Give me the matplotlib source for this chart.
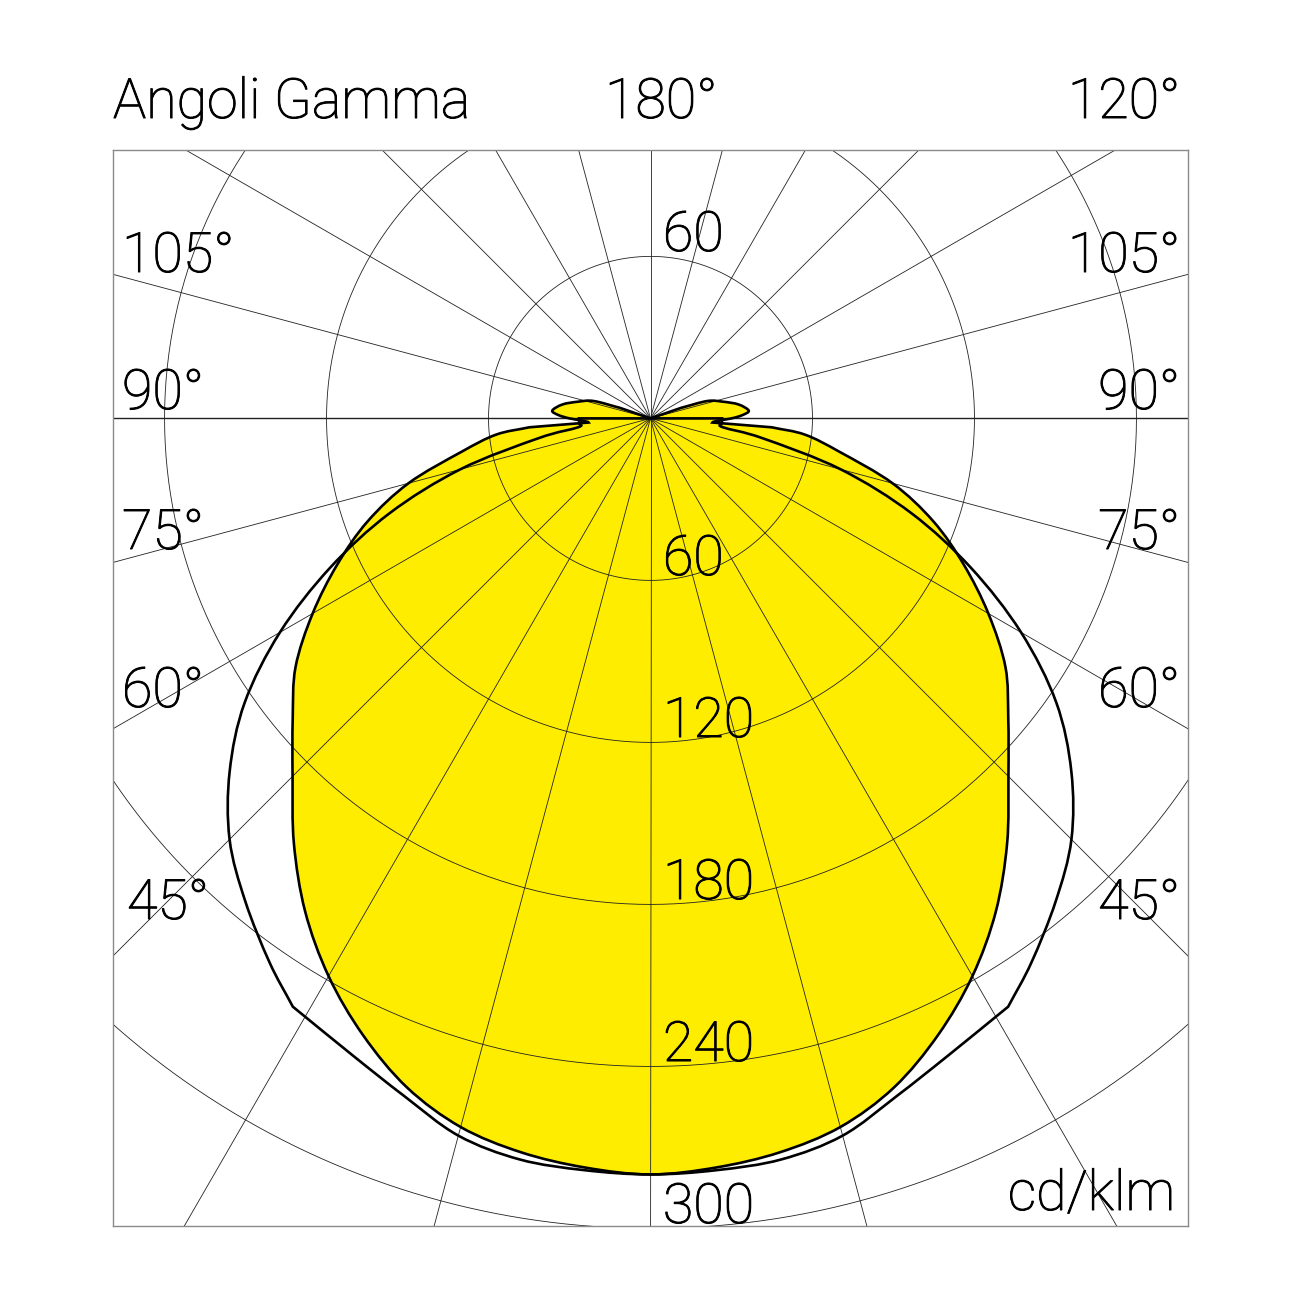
import numpy as np
import matplotlib.pyplot as plt
import matplotlib.patheffects as pe
from matplotlib.path import Path
from matplotlib.patches import PathPatch

plt.rcParams['font.family'] = ['Roboto', 'DejaVu Sans']

# luminous intensity, cd/klm; gamma in degrees from nadir (0 = straight down)
# plane drawn filled yellow
gamma_c0 = [0, 5, 10, 15, 20, 25, 30, 35, 40, 45, 50, 55, 60, 65, 70, 75, 80, 84,
            85.8, 86.2, 87, 88.5, 90, 92, 94.5, 99, 103, 107, 109, 110]
cd_c0 = [280, 278.5, 276, 271.7, 263.7, 252, 238.5, 223, 205.5, 187.5, 173, 160.5,
         144.5, 128, 111.5, 92.8, 71, 57.5, 45, 23, 23.5, 26, 30, 34, 36.5, 33,
         27.5, 22, 12, 0]
kinks_c0 = [85.8, 86.2, 109]

# plane drawn as black outline
gamma_c90 = [0, 5, 10, 15, 20, 25, 31.3, 35, 40, 45, 50, 55, 60, 65, 70, 75, 80,
             83, 86, 90, 90.5]
cd_c90 = [280, 279.5, 278.7, 275, 267, 260.5, 255, 246, 233.5, 220.5, 203.5,
          183.5, 158.5, 131, 103, 73, 42, 27, 26.5, 26.5, 0]
kinks_c90 = [31.3, 90]

ring_values = [60, 120, 180, 240, 300]
left_labels = ["105°", "90°", "75°", "60°", "45°"]
right_labels = ["105°", "90°", "75°", "60°", "45°"]

W = 1302


def px(x, y):
    # pixel position -> figure fraction
    return x / W, 1 - y / W


def both_sides(gam, val, kinks):
    g = np.radians(np.array(gam))
    r = np.array(val)
    xr = r * np.sin(g)
    yr = -r * np.cos(g)
    x = np.concatenate([-xr[::-1], xr[1:]])
    y = np.concatenate([yr[::-1], yr[1:]])
    n = len(gam)
    corners = set()
    for k in kinks:
        j = gam.index(k)
        corners.add(n - 1 - j)
        corners.add(n - 1 + j)
    return x, y, corners


def smooth_path(x, y, corners):
    # cubic bezier through the points (catmull-rom tangents), sharp at corners
    pts = np.column_stack([x, y])
    n = len(pts)
    verts = [pts[0]]
    codes = [Path.MOVETO]
    for i in range(n - 1):
        p0, p1 = pts[i], pts[i + 1]
        if i == 0 or i in corners:
            c1 = p0 + (p1 - p0) / 3
        else:
            c1 = p0 + (p1 - pts[i - 1]) / 6
        if i + 1 == n - 1 or (i + 1) in corners:
            c2 = p1 - (p1 - p0) / 3
        else:
            c2 = p1 - (pts[i + 2] - p0) / 6
        verts += [c1, c2, p1]
        codes += [Path.CURVE4] * 3
    return Path(verts, codes)


fig = plt.figure(figsize=(13.02, 13.02), dpi=100)
ax = fig.add_axes([113 / W, 1 - 1226 / W, 1075 / W, 1076 / W])
ax.set_xlim(-199.1, 199.1)
ax.set_ylim(-299.1, 99.4)
ax.set_xticks([])
ax.set_yticks([])
for s in ax.spines.values():
    s.set_color('#8a8a8a')
    s.set_linewidth(1.0)

x0, y0, k0 = both_sides(gamma_c0, cd_c0, kinks_c0)
path0 = smooth_path(x0, y0, k0)
ax.add_patch(PathPatch(path0, facecolor='#FFED00', edgecolor='none', zorder=1))

# grid: circles and 15 degree rays
t = np.linspace(0, 2 * np.pi, 721)
for rv in ring_values + [360]:
    ax.plot(rv * np.cos(t), rv * np.sin(t), color='#222222', lw=0.6, zorder=2)
for a in range(0, 360, 15):
    ar = np.radians(a)
    lw = 1.0 if a % 180 == 0 else 0.6
    ax.plot([0, 600 * np.cos(ar)], [0, 600 * np.sin(ar)], color='#222222', lw=lw, zorder=2)

ax.add_patch(PathPatch(path0, fill=False, edgecolor='black', lw=1.9, zorder=3))
x9, y9, k9 = both_sides(gamma_c90, cd_c90, kinks_c90)
ax.add_patch(PathPatch(smooth_path(x9, y9, k9), fill=False, edgecolor='black',
                       lw=1.9, zorder=3))

fs = 40
stroke = [pe.withStroke(linewidth=0.7, foreground='black')]
txt = dict(fontsize=fs, fontweight='light', va='baseline', color='black',
           path_effects=stroke)

for v in ring_values:
    ax.text(4.6, -v + 2, str(v), ha='left', zorder=4, clip_on=False, **txt)
ax.text(4.6, 62, "60", ha='left', zorder=4, **txt)

fig.text(*px(113, 118), "Angoli Gamma", ha='left', **txt)
fig.text(*px(605, 118), "180°", ha='left', **txt)
fig.text(*px(1180, 118), "120°", ha='right', **txt)

baselines = [272, 409, 549, 707, 919]
left_x = [122, 122, 122, 122, 127]
for lab, yb, xl in zip(left_labels, baselines, left_x):
    fig.text(*px(xl, yb), lab, ha='left', **txt)
for lab, yb in zip(right_labels, baselines):
    fig.text(*px(1180, yb), lab, ha='right', **txt)

fig.text(*px(1175, 1210), "cd/klm", ha='right', **txt)

plt.savefig("out.png", dpi=100)
